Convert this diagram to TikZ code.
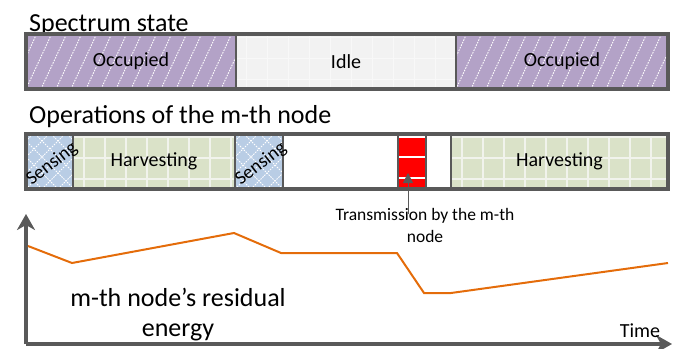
\documentclass[tikz,border=0pt]{standalone}
\usepackage{fontspec}
\setmainfont{Carlito}
\usetikzlibrary{arrows.meta,calc}
\definecolor{edge}{HTML}{595959}
\definecolor{occ}{HTML}{B3A2C7}
\definecolor{idlec}{HTML}{F2F2F2}
\definecolor{idleline}{HTML}{F8F8F8}
\definecolor{harv}{HTML}{DAE2C8}
\definecolor{harvline}{HTML}{F1F3EC}
\definecolor{sens}{HTML}{B9CDE5}
\definecolor{txred}{HTML}{FF0000}
\definecolor{energyc}{HTML}{E46C0A}
\tikzset{
  seg/.style={draw=edge, line width=1.5pt, inner sep=0pt, outer sep=0pt,
    anchor=north west, minimum height=55pt, text=black,
    font=\fontsize{20}{24}\selectfont},
  occupied/.style={seg, fill=occ, path picture={
    \foreach \i in {-45,-30,...,225}
      \draw[white, line width=0.9pt, dash pattern=on 1.6pt off 1.2pt]
        ([xshift=\i pt]path picture bounding box.south west) -- ++(27pt,58pt);}},
  idleseg/.style={seg, fill=idlec, path picture={
    \foreach \i in {10,31,...,220}
      \draw[idleline, line width=0.8pt]
        ([xshift=\i pt]path picture bounding box.south west) -- ++(0pt,60pt);
    \foreach \j in {10,31,52}
      \draw[idleline, line width=0.8pt]
        ([yshift=\j pt]path picture bounding box.south west) -- ++(230pt,0pt);}},
  harvseg/.style={seg, fill=harv, path picture={
    \foreach \i in {11,32,...,230}
      \draw[harvline, line width=1.8pt]
        ([xshift=\i pt]path picture bounding box.south west) -- ++(0pt,60pt);
    \foreach \j in {10,31,52}
      \draw[harvline, line width=1.8pt]
        ([yshift=\j pt]path picture bounding box.south west) -- ++(230pt,0pt);}},
  sensseg/.style={seg, fill=sens, path picture={
    \foreach \i in {-64,-48,...,112} {
      \draw[white, line width=0.9pt, dash pattern=on 1.5pt off 1.2pt]
        ([xshift=\i pt]path picture bounding box.south west) -- ++(60pt,60pt);
      \draw[white, line width=0.9pt, dash pattern=on 1.5pt off 1.2pt]
        ([xshift=\i pt]path picture bounding box.south west) -- ++(-60pt,60pt);}}},
  redseg/.style={seg, fill=txred, path picture={
    \foreach \j in {11,32,52}
      \draw[white, line width=1.6pt]
        ([yshift=\j pt]path picture bounding box.south west) -- ++(40pt,0pt);}},
  blankseg/.style={seg, fill=white},
  barframe/.style={draw=edge, line width=3.2pt},
  title/.style={anchor=base west, inner sep=0pt, font=\fontsize{26}{30}\selectfont},
  senstext/.style={rotate=38, inner sep=0pt, font=\fontsize{19}{22}\selectfont},
  smalllabel/.style={anchor=base, inner sep=0pt, align=center,
    font=\fontsize{17.5}{22}\selectfont},
  biglabel/.style={anchor=base, inner sep=0pt, align=center,
    font=\fontsize{26}{30}\selectfont},
  timelabel/.style={anchor=base, inner sep=0pt, font=\fontsize{20}{24}\selectfont},
  pointer/.style={draw=edge, line width=0.8pt, -{Triangle[length=10pt,width=10pt]}},
  axis/.style={draw=edge, line width=4pt, -{Stealth[length=16pt,width=18pt,inset=5pt]}},
  energyline/.style={draw=energyc, line width=2pt, line join=miter},
}
\begin{document}
\begin{tikzpicture}[x=1pt,y=1pt]
\useasboundingbox (0,0) rectangle (676,-348);

% titles
\node[title] (spectitle) at (29,-31) {Spectrum state};
\node[title] (opstitle) at (29,-123) {Operations of the m-th node};

% spectrum bar
\node[occupied, minimum width=210pt] (occ1) at (26,-34) {Occupied};
\node[idleseg, minimum width=220pt] (idle) at (236,-34) {Idle};
\node[occupied, minimum width=212pt] (occ2) at (456,-34) {Occupied};
\draw[barframe] (occ1.north west) rectangle (occ2.south east);

% operations bar
\node[sensseg, minimum width=47pt] (sens1) at (26,-134) {};
\node[harvseg, minimum width=162pt] (harv1) at (73,-134) {Harvesting};
\node[sensseg, minimum width=48pt] (sens2) at (235,-134) {};
\node[blankseg, minimum width=115pt] (blank1) at (283,-134) {};
\node[redseg, minimum width=28pt] (tx) at (398,-134) {};
\node[blankseg, minimum width=25pt] (blank2) at (426,-134) {};
\node[harvseg, minimum width=217pt] (harv2) at (451,-134) {Harvesting};
\draw[barframe] (sens1.north west) rectangle (harv2.south east);
\node[senstext] (sens1t) at (52,-164) {Sensing};
\node[senstext] (sens2t) at (261,-164) {Sensing};

% transmission pointer
\coordinate (txfoot) at (408,-214);
\coordinate (txtip) at (408,-173);
\draw[pointer] (txfoot) -- (txtip);
\node[smalllabel] (txlabel) at (425,-242) {Transmission by the m-th\\node};

% axes
\coordinate (origin) at (26,-344);
\coordinate (ytip) at (26,-214);
\coordinate (xtip) at (672,-344);
\draw[axis] (origin) -- (ytip);
\draw[axis] (origin) -- (xtip);
\node[timelabel] (timel) at (640,-337) {Time};

% energy curve
\coordinate (e1) at (28,-246);
\coordinate (e2) at (72,-263);
\coordinate (e3) at (234,-233);
\coordinate (e4) at (281,-253);
\coordinate (e5) at (397,-253);
\coordinate (e6) at (424,-293);
\coordinate (e7) at (451,-293);
\coordinate (e8) at (668,-263);
\draw[energyline] (e1) -- (e2) -- (e3) -- (e4) -- (e5) -- (e6) -- (e7) -- (e8);

\node[biglabel] (elabel) at (178,-336) {m-th node’s residual\\energy};
\end{tikzpicture}
\end{document}
